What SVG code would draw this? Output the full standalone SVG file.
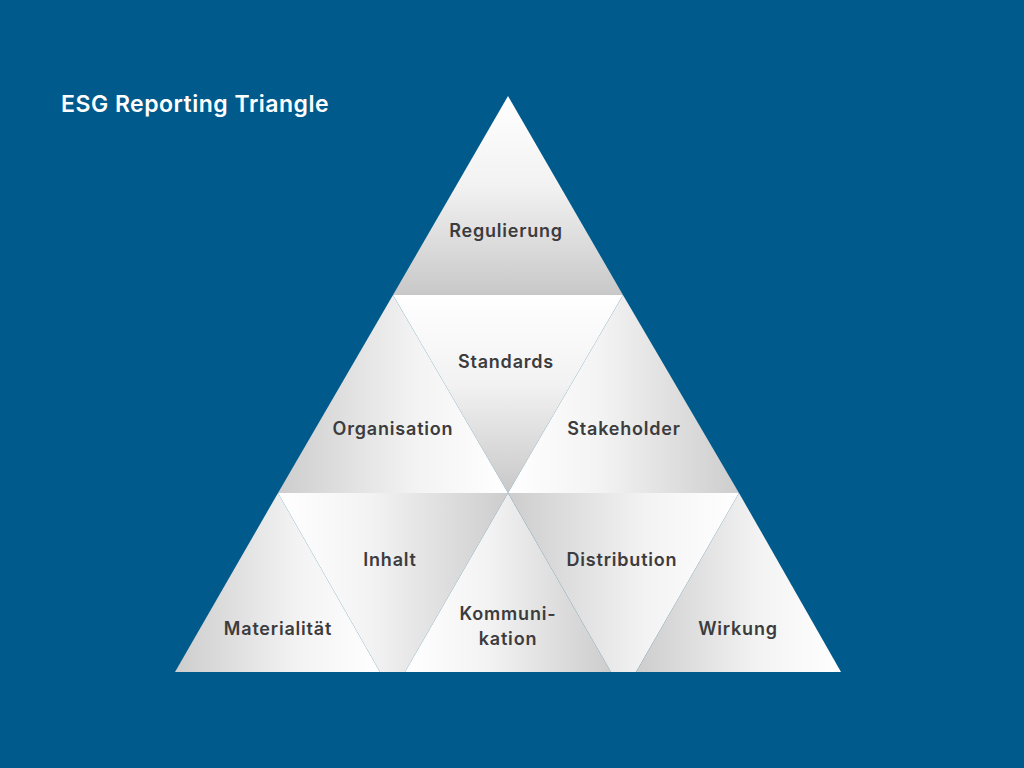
<svg xmlns="http://www.w3.org/2000/svg" width="1024" height="768" viewBox="0 0 1024 768">
<defs>
<linearGradient id="gv" x1="0" y1="0" x2="0" y2="1"><stop offset="0" stop-color="#ffffff"/><stop offset="0.45" stop-color="#f2f2f2"/><stop offset="1" stop-color="#c8c8c8"/></linearGradient>
<linearGradient id="gl" x1="0" y1="0" x2="1" y2="0"><stop offset="0" stop-color="#cdcdcd"/><stop offset="0.6" stop-color="#f3f3f3"/><stop offset="1" stop-color="#ffffff"/></linearGradient>
<linearGradient id="gr" x1="0" y1="0" x2="1" y2="0"><stop offset="0" stop-color="#ffffff"/><stop offset="0.4" stop-color="#f3f3f3"/><stop offset="1" stop-color="#cdcdcd"/></linearGradient>
</defs>
<style>
.t{font-family:Inter,"Liberation Sans",Arial,sans-serif;font-weight:600;font-size:18px;letter-spacing:0.8px;fill:#3c3c3e;text-anchor:middle}
.h{font-family:Inter,"Liberation Sans",Arial,sans-serif;font-weight:600;font-size:23px;letter-spacing:0.5px;fill:#ffffff}
</style>
<rect width="1024" height="768" fill="#005a8c"/>
<text class="h" x="61" y="112">ESG Reporting Triangle</text>
<g id="regulierung"><polygon points="508,96 393,295 623,295" fill="url(#gv)"/><text class="t" x="506" y="237">Regulierung</text></g>
<g id="standards"><polygon points="393,295 623,295 508,493" fill="url(#gv)"/><text class="t" x="506" y="368">Standards</text></g>
<g id="organisation"><polygon points="393,295 278,493 508,493" fill="url(#gl)"/><text class="t" x="393" y="435">Organisation</text></g>
<g id="stakeholder"><polygon points="623,295 508,493 739,493" fill="url(#gr)"/><text class="t" x="624" y="435">Stakeholder</text></g>
<g id="materialitaet"><polygon points="278,493 175,672 380,672" fill="url(#gl)"/><text class="t" x="278" y="635">Materialität</text></g>
<g id="inhalt"><polygon points="278,493 508,493 405,672 380,672" fill="url(#gr)"/><text class="t" x="390" y="566">Inhalt</text></g>
<g id="kommunikation"><polygon points="508,493 405,672 611,672" fill="url(#gr)"/><text class="t" x="508" y="620">Kommuni-</text><text class="t" x="508" y="645">kation</text></g>
<g id="distribution"><polygon points="508,493 739,493 636,672 611,672" fill="url(#gl)"/><text class="t" x="622" y="566">Distribution</text></g>
<g id="wirkung"><polygon points="739,493 636,672 841,672" fill="url(#gl)"/><text class="t" x="738" y="635">Wirkung</text></g>
<g id="connectors"/>
</svg>
